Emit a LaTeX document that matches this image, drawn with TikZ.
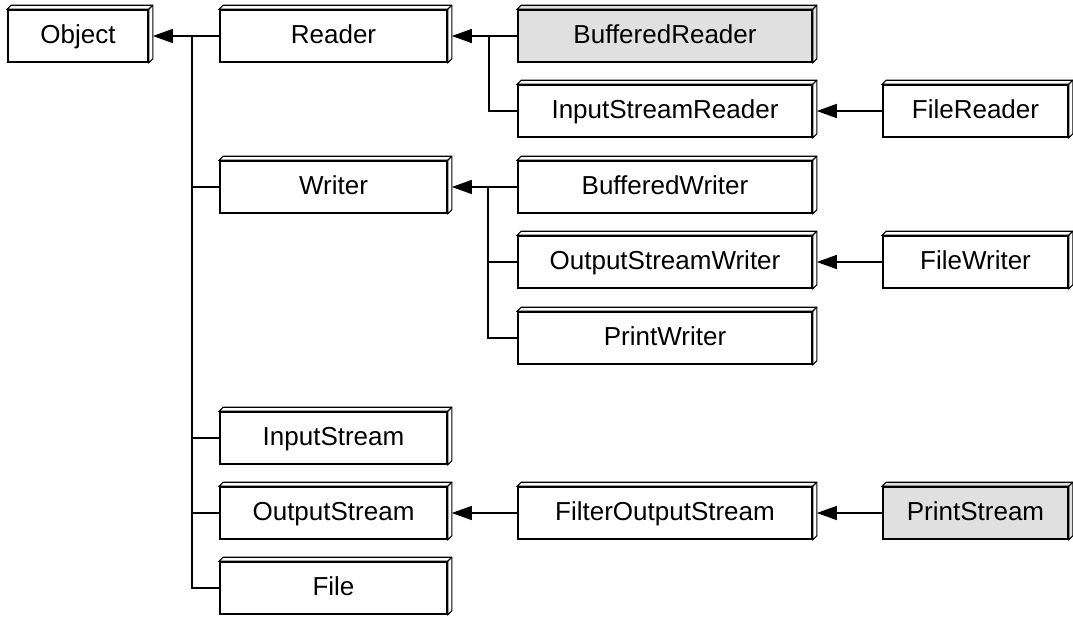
\documentclass[tikz,border=0pt]{standalone}
\usepackage{fontspec}
\setmainfont{Liberation Sans}
\usetikzlibrary{arrows.meta}
\definecolor{shade}{HTML}{E0E0E0}
\tikzset{
  cls/.style={draw, line width=1.6pt, fill=white, minimum width=#1, minimum height=52pt,
    inner sep=0pt, text height=19pt, text depth=5pt, font=\fontsize{26}{30}\selectfont,
    append after command={\pgfextra{
      \draw[line width=1.1pt, fill=\boxfill, line join=miter]
        (\tikzlastnode.north west) -- ([shift={(4pt,4pt)}]\tikzlastnode.north west)
        -- ([shift={(4pt,4pt)}]\tikzlastnode.north east)
        -- ([shift={(4pt,4pt)}]\tikzlastnode.south east)
        -- (\tikzlastnode.south east) -- (\tikzlastnode.north east) -- cycle;
      \draw[line width=1.1pt] (\tikzlastnode.north east) -- ([shift={(4pt,4pt)}]\tikzlastnode.north east);
    }}},
  gray/.style={fill=shade},
  conn/.style={line width=1.3pt},
  inh/.style={line width=1.3pt, -{Triangle[length=20pt,width=14pt]}}
}
\def\boxfill{white}
\begin{document}
\begin{tikzpicture}[x=1pt,y=-1pt]
\useasboundingbox (0,0) rectangle (1073,622);
% column 1
\node[cls=140pt] (object) at (78,36) {Object};
% column 2
\node[cls=227pt] (reader) at (333.5,36) {Reader};
\node[cls=227pt] (writer) at (333.5,187) {Writer};
\node[cls=227pt] (instream) at (333.5,438) {InputStream};
\node[cls=227pt] (outstream) at (333.5,513) {OutputStream};
\node[cls=227pt] (file) at (333.5,588) {File};
% column 3
\def\boxfill{shade}
\node[cls=294pt, gray] (bufreader) at (665,36) {BufferedReader};
\def\boxfill{white}
\node[cls=294pt] (isr) at (665,111) {InputStreamReader};
\node[cls=294pt] (bufwriter) at (665,187) {BufferedWriter};
\node[cls=294pt] (osw) at (665,262) {OutputStreamWriter};
\node[cls=294pt] (printwriter) at (665,338) {PrintWriter};
\node[cls=294pt] (fos) at (665,513) {FilterOutputStream};
% column 4
\node[cls=185pt] (filereader) at (975.5,111) {FileReader};
\node[cls=185pt] (filewriter) at (975.5,262) {FileWriter};
\def\boxfill{shade}
\node[cls=185pt, gray] (printstream) at (975.5,513) {PrintStream};
\def\boxfill{white}
% trunk from Object
\coordinate (t0) at (192,36);
\draw[inh] (reader.west) -- ([xshift=4pt]object.east);
\draw[conn] (t0) |- (file.west);
\draw[conn] (t0 |- writer.west) -- (writer.west);
\draw[conn] (t0 |- instream.west) -- (instream.west);
\draw[conn] (t0 |- outstream.west) -- (outstream.west);
% Reader subtree
\coordinate (t1) at (489,36);
\draw[inh] (bufreader.west) -- ([xshift=4pt]reader.east);
\draw[conn] (t1) |- (isr.west);
\draw[inh] (filereader.west) -- ([xshift=4pt]isr.east);
% Writer subtree
\coordinate (t2) at (488,187);
\draw[inh] (bufwriter.west) -- ([xshift=4pt]writer.east);
\draw[conn] (t2) |- (printwriter.west);
\draw[conn] (t2 |- osw.west) -- (osw.west);
\draw[inh] (filewriter.west) -- ([xshift=4pt]osw.east);
% OutputStream subtree
\draw[inh] (fos.west) -- ([xshift=4pt]outstream.east);
\draw[inh] (printstream.west) -- ([xshift=4pt]fos.east);
\end{tikzpicture}
\end{document}
